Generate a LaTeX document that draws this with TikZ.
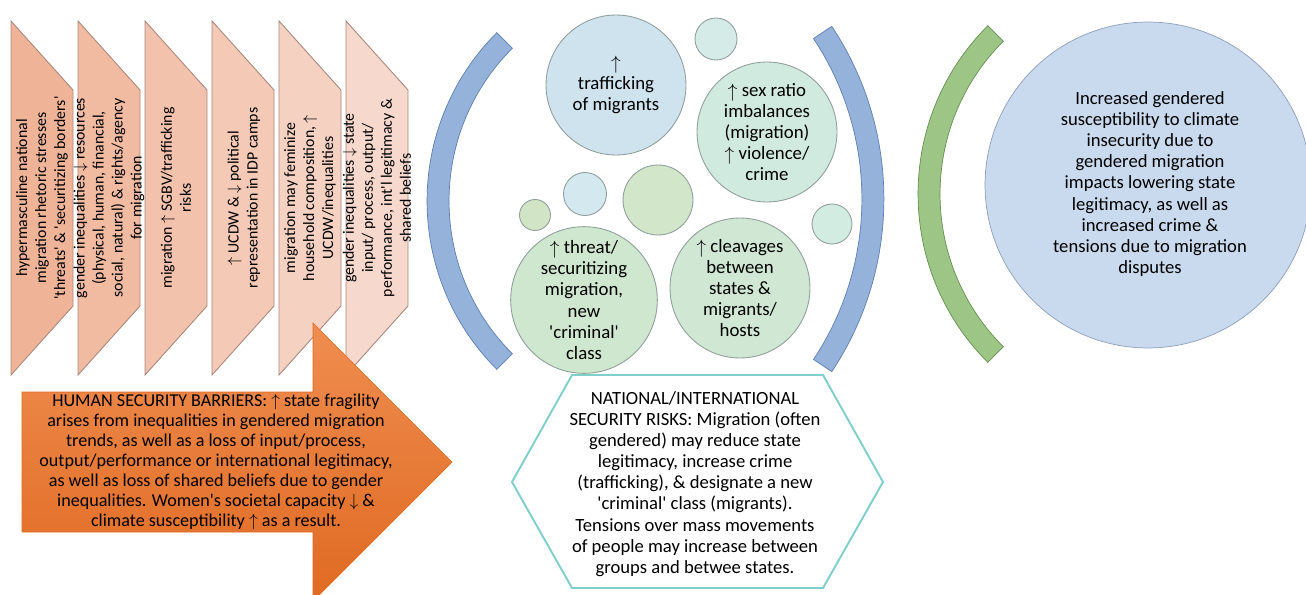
\documentclass[tikz,border=0pt]{standalone}
\usepackage{fontspec}
\setmainfont{Carlito}
\usetikzlibrary{positioning,calc}

\definecolor{chevdark}{HTML}{EFB498}
\definecolor{chevlight}{HTML}{F7DACF}
\definecolor{chevline}{HTML}{A8887C}
\definecolor{orangetop}{HTML}{EF8D50}
\definecolor{orangebot}{HTML}{E06A22}
\definecolor{arcblue}{HTML}{94B2DA}
\definecolor{arcblueline}{HTML}{5D7FB2}
\definecolor{arcgreen}{HTML}{9DC586}
\definecolor{arcgreenline}{HTML}{678F50}
\definecolor{bubbleline}{HTML}{8F9E9C}
\definecolor{hexline}{HTML}{80CFCB}
\definecolor{outcomefill}{HTML}{CADAEE}
\definecolor{outcomeline}{HTML}{8D9EB6}

\newcommand{\sq}{\textquotesingle}
\newcommand{\up}{\raisebox{-0.05em}{$\uparrow$}}

\tikzset{
  chevron/.style={draw=chevline, line width=0.5pt},
  chevtext/.style={rotate=90, align=center, inner sep=0pt, font=\fontsize{9}{10.8}\selectfont},
  bubble/.style={circle, draw=bubbleline, line width=0.5pt, inner sep=0pt, align=center,
    font=\fontsize{10.7}{12}\selectfont},
  maintext/.style={align=center, inner sep=0pt, font=\fontsize{10.3}{11.4}\selectfont},
  hextext/.style={align=center, inner sep=0pt, font=\fontsize{10.6}{12}\selectfont},
}

\begin{document}
\begin{tikzpicture}[x=0.02cm, y=-0.02cm]
    \useasboundingbox (0,0) rectangle (1306,595);

    % Chevrons
    \foreach \i in {0,...,5} {
        \pgfmathsetmacro{\l}{11+67*\i}
        \pgfmathsetmacro{\p}{100-19*\i}
        \draw[chevron, fill=chevdark!\p!chevlight] (\l,21) -- (\l+62,90) -- (\l+62,306) -- (\l,375) -- cycle;
    }
    \node[chevtext] (hyper) at (42,198) {hypermasculine national\\migration rhetoric stresses\\\sq threats\sq{} \& \sq securitizing borders\sq};
    \node[chevtext] (resources) at (109,198) {gender inequalities $\downarrow$ resources\\(physical, human, financial,\\social, natural) \& rights/agency\\for migration};
    \node[chevtext] (sgbv) at (176,198) {migration $\uparrow$ SGBV/trafficking\\risks};
    \node[chevtext] (ucdw) at (244,198) {$\uparrow$ UCDW \& $\downarrow$ political\\representation in IDP camps};
    \node[chevtext] (household) at (310,198) {migration may feminize\\household composition, $\uparrow$\\UCDW/inequalities};
    \node[chevtext] (legit) at (377,198) {gender inequalities $\downarrow$ state\\input/ process, output/\\performance, int\sq l legitimacy \&\\shared beliefs};

    % Big arrow
    \draw[draw=orangebot, top color=orangetop, bottom color=orangebot]
        (22,392) -- (313,392) -- (313,323) -- (452,462) -- (313,601) -- (313,532) -- (22,532) -- cycle;
    \node[maintext] (barriers) at (216,462) {HUMAN SECURITY BARRIERS: $\uparrow$ state fragility\\arises from inequalities in gendered migration\\trends, as well as a loss of input/process,\\output/performance or international legitimacy,\\as well as loss of shared beliefs due to gender\\inequalities. Women\sq s societal capacity $\downarrow$ \&\\climate susceptibility $\uparrow$ as a result.};

    % Arcs
    \draw[draw=arcblueline, fill=arcblue] ([shift={(665,201)}]135:4.76cm) arc[start angle=135, end angle=225, radius=4.76cm]
        -- ([shift={(665,201)}]225:4.32cm) arc[start angle=225, end angle=135, radius=4.32cm] -- cycle;
    \draw[draw=arcblueline, fill=arcblue] ([shift={(572,199)}]-33.6:6.24cm) arc[start angle=-33.6, end angle=33.6, radius=6.24cm]
        -- ([shift={(572,199)}]33.6:5.8cm) arc[start angle=33.6, end angle=-33.6, radius=5.8cm] -- cycle;
    \draw[draw=arcgreenline, fill=arcgreen] ([shift={(1156,194)}]135:4.76cm) arc[start angle=135, end angle=225, radius=4.76cm]
        -- ([shift={(1156,194)}]225:4.32cm) arc[start angle=225, end angle=135, radius=4.32cm] -- cycle;

    % Bubbles
    \node[bubble, fill={rgb,255:red,207;green,227;blue,239}, minimum size=2.8cm] (trafficking) at (616,85) {\up\\trafficking\\of migrants};
    \node[bubble, fill={rgb,255:red,212;green,235;blue,232}, minimum size=0.84cm] (dot1) at (716,39) {};
    \node[bubble, fill={rgb,255:red,209;green,234;blue,223}, minimum size=2.8cm] (sexratio) at (767,132) {\up{} sex ratio\\imbalances\\(migration)\\\up{} violence/\\crime};
    \node[bubble, fill={rgb,255:red,212;green,232;blue,240}, minimum size=0.86cm] (dot2) at (585,194) {};
    \node[bubble, fill={rgb,255:red,210;green,230;blue,202}, minimum size=1.4cm] (dot3) at (658,200) {};
    \node[bubble, fill={rgb,255:red,209;green,228;blue,198}, minimum size=0.62cm] (dot4) at (535,215) {};
    \node[bubble, fill={rgb,255:red,211;green,236;blue,226}, minimum size=0.8cm] (dot5) at (832,224) {};
    \node[bubble, fill={rgb,255:red,208;green,231;blue,207}, minimum size=2.8cm] (threat) at (584,300) {\up{} threat/\\securitizing\\migration,\\new\\\sq criminal\sq\\class};
    \node[bubble, fill={rgb,255:red,208;green,231;blue,212}, minimum size=2.8cm] (cleavages) at (740,288) {\up{} cleavages\\between\\states \&\\migrants/\\hosts};

    % Hexagon
    \draw[draw=hexline, line width=1.1pt, fill=white]
        (572,375) -- (823,375) -- (883,482) -- (823,588) -- (572,588) -- (512,482) -- cycle;
    \node[hextext] (risks) at (695,484) {NATIONAL/INTERNATIONAL\\SECURITY RISKS: Migration (often\\gendered) may reduce state\\legitimacy, increase crime\\(trafficking), \& designate a new\\\sq criminal\sq{} class (migrants).\\Tensions over mass movements\\of people may increase between\\groups and betwee states.};

    % Outcome
    \node[circle, draw=outcomeline, fill=outcomefill, minimum size=6.52cm, inner sep=0pt] (outcome) at (1148,185) {};
    \node[hextext] (outcometext) at (1150,184) {Increased gendered\\susceptibility to climate\\insecurity due to\\gendered migration\\impacts lowering state\\legitimacy, as well as\\increased crime \&\\tensions due to migration\\disputes};
\end{tikzpicture}
\end{document}
